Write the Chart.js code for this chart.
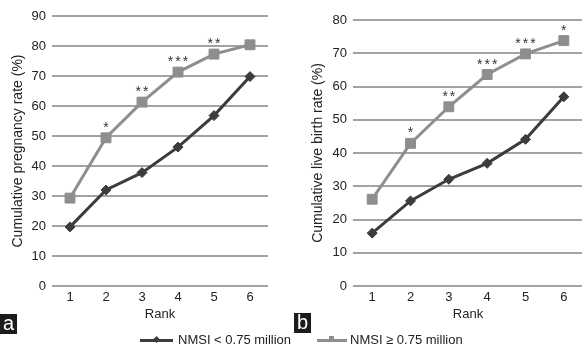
<!DOCTYPE html>
<html>
<head>
<meta charset="utf-8">
<script src="https://cdn.jsdelivr.net/npm/chart.js@4"></script>
<style>
  body { margin: 0; background: #fff; font-family: "Liberation Sans", Arial, sans-serif; }
  #wrap { position: relative; width: 582px; height: 348px; overflow: hidden; }
  .box { position: absolute; width: 290px; height: 322px; top: 0; }
  .tag { position: absolute; background: #1c1c1c; color: #fff; font-size: 20px; line-height: 19px;
         width: 17px; height: 20px; text-align: center; }
  .legend { position: absolute; top: 332px; font-size: 13px; color: #222; white-space: nowrap; }
  .legend .ln { display: inline-block; position: relative; width: 33px; height: 3px; vertical-align: middle; margin-right: 5px; }
  .legend .mk { position: absolute; left: 14px; top: -2px; width: 5px; height: 5px; }
</style>
</head>
<body>
<div id="wrap">
  <div class="box" style="left:0"><canvas id="chartA"></canvas></div>
  <div class="box" style="left:290px; width:301px"><canvas id="chartB"></canvas></div>
  <div class="tag" style="left:0; top:314px">a</div>
  <div class="tag" style="left:294px; top:313px">b</div>
  <div class="legend" style="left:140px"><span class="ln" style="background:#3c3c3c"><span class="mk" style="background:#3c3c3c; transform:rotate(45deg)"></span></span>NMSI &lt; 0.75 million</div>
  <div class="legend" style="left:317px"><span class="ln" style="background:#8e8e8e; width:30px; margin-right:3px"><span class="mk" style="background:#8e8e8e; top:-3px; height:4px; left:12px"></span></span>NMSI ≥ 0.75 million</div>
</div>
<script>
// data
const ranks = ['1', '2', '3', '4', '5', '6'];

const pregLow = [19.7, 32, 37.8, 46.3, 56.8, 69.8];
const pregHigh = [29.3, 49.4, 61.3, 71.3, 77.3, 80.4];
const pregStars = ['', '*', '**', '***', '**', ''];

const birthLow = [15.9, 25.6, 32.1, 36.9, 44.1, 56.9];
const birthHigh = [26.1, 42.9, 53.9, 63.6, 69.8, 73.8];
const birthStars = ['', '*', '**', '***', '***', '*'];

const lowLabel = 'NMSI < 0.75 million';
const highLabel = 'NMSI ≥ 0.75 million';

const darkCol = '#3c3c3c';
const grayCol = '#8e8e8e';
const fam = '"Liberation Sans", Arial, sans-serif';
const font = { family: fam, size: 13 };

// draws the significance stars above the grey points
const starPlugin = {
    id: 'stars',
    afterDatasetsDraw(chart, args, opts) {
        const meta = chart.getDatasetMeta(1);
        const ctx = chart.ctx;
        ctx.save();
        ctx.fillStyle = '#333';
        ctx.font = '14px ' + fam;
        ctx.letterSpacing = '2px';
        ctx.textAlign = 'center';
        ctx.textBaseline = 'alphabetic';
        opts.labels.forEach((s, i) => {
            if (!s) return;
            const p = meta.data[i];
            ctx.fillText(s, p.x + 1, p.y - 6);
        });
        ctx.restore();
    }
};

function makeChart(id, low, high, stars, yMax, yTitle, pad, axisW) {
    const ctx = document.getElementById(id).getContext('2d');
    return new Chart(ctx, {
        type: 'line',
        data: {
            labels: ranks,
            datasets: [{
                label: lowLabel,
                data: low,
                borderColor: darkCol,
                backgroundColor: darkCol,
                borderWidth: 3,
                pointStyle: 'rectRot',
                pointRadius: 5,
                pointBorderWidth: 1,
                tension: 0
            }, {
                label: highLabel,
                data: high,
                borderColor: grayCol,
                backgroundColor: grayCol,
                borderWidth: 3,
                pointStyle: 'rect',
                pointRadius: 7,
                pointBorderWidth: 1,
                tension: 0
            }]
        },
        options: {
            responsive: true,
            maintainAspectRatio: false,
            animation: false,
            layout: { padding: pad },
            plugins: {
                legend: { display: false },
                tooltip: { enabled: false },
                stars: { labels: stars }
            },
            scales: {
                x: {
                    offset: true,
                    grid: { display: false, drawTicks: false },
                    border: { display: false },
                    ticks: { color: '#222', font: font, padding: 4 },
                    title: { display: true, text: 'Rank', color: '#222', font: font, padding: { top: 0, bottom: 0 } },
                    afterFit: s => { s.height = 36; s.paddingLeft = 0; s.paddingRight = 0; }
                },
                y: {
                    min: 0,
                    max: yMax,
                    grid: { color: '#a3a3a3', lineWidth: 2, drawTicks: false },
                    border: { display: false },
                    ticks: { stepSize: 10, color: '#222', font: font, padding: 6 },
                    title: { display: true, text: yTitle, color: '#222', font: { family: fam, size: 14 }, padding: { top: 4, bottom: 4 } },
                    afterFit: s => { s.width = axisW; s.paddingTop = 0; s.paddingBottom = 0; }
                }
            }
        },
        plugins: [starPlugin]
    });
}

makeChart('chartA', pregLow, pregHigh, pregStars, 90, 'Cumulative pregnancy rate (%)',
    { left: 6, right: 22, top: 16, bottom: 0 }, 46);
makeChart('chartB', birthLow, birthHigh, birthStars, 80, 'Cumulative live birth rate (%)',
    { left: 16, right: 1, top: 20, bottom: 0 }, 47);
</script>
</body>
</html>
